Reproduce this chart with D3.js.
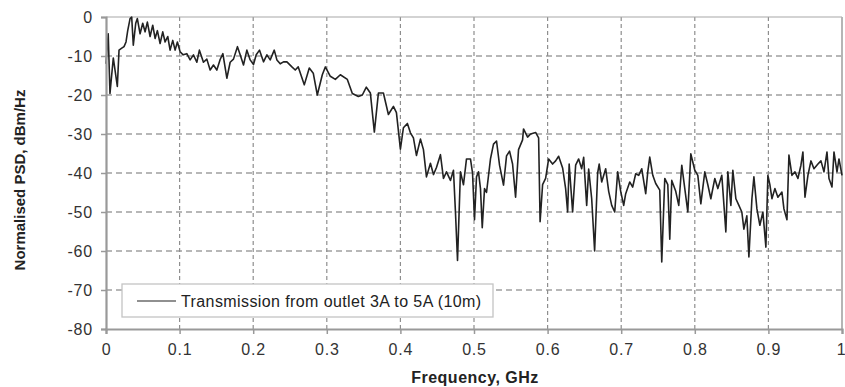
<!DOCTYPE html>
<html>
<head>
<meta charset="utf-8">
<script src="https://cdn.jsdelivr.net/npm/d3@7"></script>
<style>
  body { margin: 0; background: #fff; }
  text { font-family: "Liberation Sans", Arial, sans-serif; }
</style>
</head>
<body>
<div id="chart"></div>
<script>
// values
const freqGHz = [
  0, 0.003, 0.0054, 0.0099, 0.0154, 0.0177, 0.0214, 0.0245, 0.0272, 0.0295,
  0.0327, 0.0349, 0.0371, 0.0404, 0.0426, 0.0463, 0.0499, 0.0531, 0.0562, 0.0599,
  0.0635, 0.0667, 0.0698, 0.0735, 0.0771, 0.0803, 0.0839, 0.0871, 0.0907, 0.0939,
  0.0970, 0.1007, 0.1048, 0.1098, 0.1143, 0.1188, 0.1234, 0.1269, 0.1324, 0.1370,
  0.1415, 0.1460, 0.1506, 0.1551, 0.1588, 0.1642, 0.1687, 0.1732, 0.1786, 0.1823,
  0.1868, 0.1914, 0.1959, 0.2004, 0.2041, 0.2086, 0.2140, 0.2186, 0.2231, 0.2286,
  0.2322, 0.2367, 0.2412, 0.2458, 0.2526, 0.2571, 0.2612, 0.2694, 0.2762, 0.2816,
  0.2871, 0.2939, 0.2980, 0.3048, 0.3116, 0.3184, 0.3279, 0.3347, 0.3429, 0.3483,
  0.3537, 0.3592, 0.3646, 0.3701, 0.3769, 0.3837, 0.3905, 0.3946, 0.4000, 0.4041,
  0.4095, 0.4136, 0.4177, 0.4218, 0.4272, 0.4313, 0.4354, 0.4408, 0.4449, 0.4490,
  0.4544, 0.4585, 0.4626, 0.4680, 0.4721, 0.4748, 0.4776, 0.4816, 0.4857, 0.4898,
  0.4952, 0.4980, 0.5007, 0.5034, 0.5061, 0.5088, 0.5112, 0.5143, 0.5170, 0.5224,
  0.5265, 0.5306, 0.5347, 0.5401, 0.5442, 0.5483, 0.5524, 0.5565, 0.5605, 0.5660,
  0.5673, 0.5728, 0.5769, 0.5837, 0.5878, 0.5898, 0.5932, 0.5973, 0.6014, 0.6068,
  0.6109, 0.6150, 0.6204, 0.6245, 0.6272, 0.6293, 0.6340, 0.6381, 0.6422, 0.6463,
  0.6490, 0.6531, 0.6558, 0.6599, 0.6639, 0.6680, 0.6701, 0.6735, 0.6789, 0.6830,
  0.6871, 0.6912, 0.6952, 0.6993, 0.7034, 0.7061, 0.7116, 0.7156, 0.7197, 0.7238,
  0.7279, 0.7333, 0.7361, 0.7388, 0.7429, 0.7469, 0.7524, 0.7551, 0.7592, 0.7633,
  0.7660, 0.7687, 0.7741, 0.7782, 0.7823, 0.7864, 0.7905, 0.7946, 0.8000, 0.8041,
  0.8082, 0.8136, 0.8177, 0.8218, 0.8272, 0.8313, 0.8367, 0.8422, 0.8449, 0.8490,
  0.8517, 0.8558, 0.8599, 0.8639, 0.8667, 0.8707, 0.8735, 0.8776, 0.8803, 0.8844,
  0.8884, 0.8925, 0.8966, 0.8993, 0.9020, 0.9048, 0.9088, 0.9129, 0.9184, 0.9211,
  0.9252, 0.9279, 0.9320, 0.9361, 0.9401, 0.9442, 0.9469, 0.9497, 0.9537, 0.9578,
  0.9619, 0.9673, 0.9714, 0.9755, 0.9796, 0.9823, 0.9864, 0.9891, 0.9932, 0.9959,
  1.0
];
const psdDb = [
  -12, -4.3, -19.6, -10.5, -17.8, -8.5, -8, -7.6, -6.4, -3.5,
  -0.4, 0, -7.2, -1.6, -0.4, -4.3, -1.6, -3.8, -1.3, -5,
  -2.1, -5.5, -3.5, -6.8, -3.8, -6.4, -5, -8.5, -6, -8.5,
  -6.4, -8.9, -9.7, -9.4, -11, -9.7, -11.6, -8.5, -11.6, -10.8,
  -13.6, -12.3, -13.6, -10.9, -9.4, -15.7, -11.6, -10.8, -7.6, -9.7,
  -12.3, -8.5, -11, -12.2, -9.7, -8.5, -11.5, -9.7, -11, -8.5,
  -11, -12, -11.5, -11.5, -12.8, -13.6, -12.8, -17.4, -13.1, -14.4,
  -20, -14.8, -12.8, -15.2, -16, -14.8, -16, -19.6, -20.4, -20,
  -18, -19.5, -29.5, -19.5, -19.5, -25, -22.9, -24.5, -33.9, -28.4,
  -27.3, -29.7, -31, -35.5, -31.3, -34, -41, -37.5, -40.4, -38.6,
  -35.3, -41.4, -39.7, -41.9, -39.3, -50, -62.4, -39.7, -43, -36.4,
  -36.4, -40, -52, -41, -39.7, -44, -54, -44, -45, -36.4,
  -32.6, -31.8, -38, -43.1, -35.6, -34.4, -37.7, -46.2, -34, -31.5,
  -28.7, -30.8, -30, -29.6, -31, -52.5, -43, -41.4, -36.4, -37.7,
  -36.9, -35.7, -38.7, -44, -50, -37.7, -50, -38, -36.4, -38.9,
  -36, -48.3, -39, -46.6, -60, -40, -37.7, -42.3, -38.9, -44.7,
  -48.3, -50, -39.7, -44.7, -48.3, -45.3, -42.3, -43.6, -40.2, -40.6,
  -38.9, -45.3, -39.7, -35.9, -40.6, -42.7, -44.4, -62.8, -41.4, -43,
  -57, -41.9, -44.7, -48.3, -38, -44, -50, -35.1, -39.3, -40.6,
  -47.9, -39.7, -43, -46.6, -41.4, -44, -40.6, -55.1, -39.7, -48.3,
  -39.3, -46.6, -48.3, -50, -54.4, -51, -61.5, -46.6, -41, -49.2,
  -53.4, -50, -59, -40.6, -43, -46.6, -44, -46.2, -44.9, -49.2,
  -52, -35.4, -40.6, -39.7, -41.4, -38, -34.6, -46.2, -40.6, -36.9,
  -38.9, -37.7, -36.9, -39.7, -34.6, -41.4, -43.6, -34.6, -39.7, -36.4,
  -40.6
];
const xTicks = [0, 0.1, 0.2, 0.3, 0.4, 0.5, 0.6, 0.7, 0.8, 0.9, 1];
const yTicks = [0, -10, -20, -30, -40, -50, -60, -70, -80];
const seriesName = "Transmission from outlet 3A to 5A (10m)";

const width = 845, height = 387;
const margin = { top: 17, right: 3, bottom: 58, left: 106 };

const svg = d3.select("#chart").append("svg")
  .attr("width", width)
  .attr("height", height);

const x = d3.scaleLinear().domain([0, 1]).range([margin.left, width - margin.right]);
const y = d3.scaleLinear().domain([-80, 0]).range([height - margin.bottom, margin.top]);

// grid
svg.append("g")
  .selectAll("line")
  .data(yTicks.filter((d) => d !== 0 && d !== -80))
  .enter()
  .append("line")
  .attr("x1", x(0)).attr("x2", x(1))
  .attr("y1", (d) => y(d)).attr("y2", (d) => y(d))
  .attr("stroke", "#a0a0a0")
  .attr("stroke-width", 1.3)
  .attr("stroke-dasharray", "6,4");

svg.append("g")
  .selectAll("line")
  .data(xTicks.filter((d) => d !== 0 && d !== 1))
  .enter()
  .append("line")
  .attr("x1", (d) => x(d)).attr("x2", (d) => x(d))
  .attr("y1", y(0)).attr("y2", y(-80))
  .attr("stroke", "#8e8e8e")
  .attr("stroke-width", 1.2)
  .attr("stroke-dasharray", "4,3");

// frame top / right
svg.append("line")
  .attr("x1", x(0)).attr("x2", x(1)).attr("y1", y(0)).attr("y2", y(0))
  .attr("stroke", "#a8a8a8").attr("stroke-width", 1.2);
svg.append("line")
  .attr("x1", x(1)).attr("x2", x(1)).attr("y1", y(0)).attr("y2", y(-80))
  .attr("stroke", "#b5b5b5").attr("stroke-width", 2);

// data line
const line = d3.line()
  .x((d, i) => x(freqGHz[i]))
  .y((d) => y(d));

svg.append("path")
  .datum(psdDb)
  .attr("d", line)
  .attr("fill", "none")
  .attr("stroke", "#222")
  .attr("stroke-width", 1.6)
  .attr("stroke-linejoin", "round");

// axes
const yAxis = svg.append("g")
  .attr("transform", `translate(${x(0)},0)`)
  .call(d3.axisLeft(y).tickValues(yTicks).tickSize(5).tickPadding(8).tickFormat((d) => String(d)));
const xAxis = svg.append("g")
  .attr("transform", `translate(0,${y(-80)})`)
  .call(d3.axisBottom(x).tickValues(xTicks).tickSize(5).tickPadding(10).tickFormat((d) => String(d)));

[yAxis, xAxis].forEach((g) => {
  g.select(".domain").attr("stroke", "#999").attr("stroke-width", 2.2);
  g.selectAll(".tick line").attr("stroke", "#999").attr("stroke-width", 1.5);
  g.selectAll(".tick text")
    .attr("fill", "#333")
    .style("font-size", "16px")
    .style("letter-spacing", "0.8px");
});
// last label sits on the right edge, as in the source
xAxis.selectAll(".tick text").filter((d) => d === 1)
  .attr("text-anchor", "end")
  .attr("dx", 4);

// legend
const legend = svg.append("g");
legend.append("rect")
  .attr("x", 122).attr("y", 284)
  .attr("width", 371).attr("height", 33)
  .attr("fill", "#fff")
  .attr("stroke", "#c4c4c4")
  .attr("stroke-width", 1.3);
legend.append("line")
  .attr("x1", 137).attr("x2", 176)
  .attr("y1", 301).attr("y2", 301)
  .attr("stroke", "#222").attr("stroke-width", 1.2);
legend.append("text")
  .attr("x", 181).attr("y", 301)
  .attr("dy", "0.35em")
  .attr("fill", "#222")
  .style("font-size", "16px")
  .style("letter-spacing", "0.4px")
  .text(seriesName);

// axis titles
svg.append("text")
  .attr("x", (x(0) + x(1)) / 2 + 1)
  .attr("y", 383)
  .attr("text-anchor", "middle")
  .attr("fill", "#222")
  .style("font-size", "16px")
  .style("font-weight", "bold")
  .style("letter-spacing", "0.5px")
  .text("Frequency, GHz");

svg.append("text")
  .attr("transform", "translate(20,180) rotate(-90)")
  .attr("text-anchor", "middle")
  .attr("dy", "0.35em")
  .attr("fill", "#222")
  .style("font-size", "15px")
  .style("font-weight", "bold")
  .text("Normalised PSD, dBm/Hz");
</script>
</body>
</html>
